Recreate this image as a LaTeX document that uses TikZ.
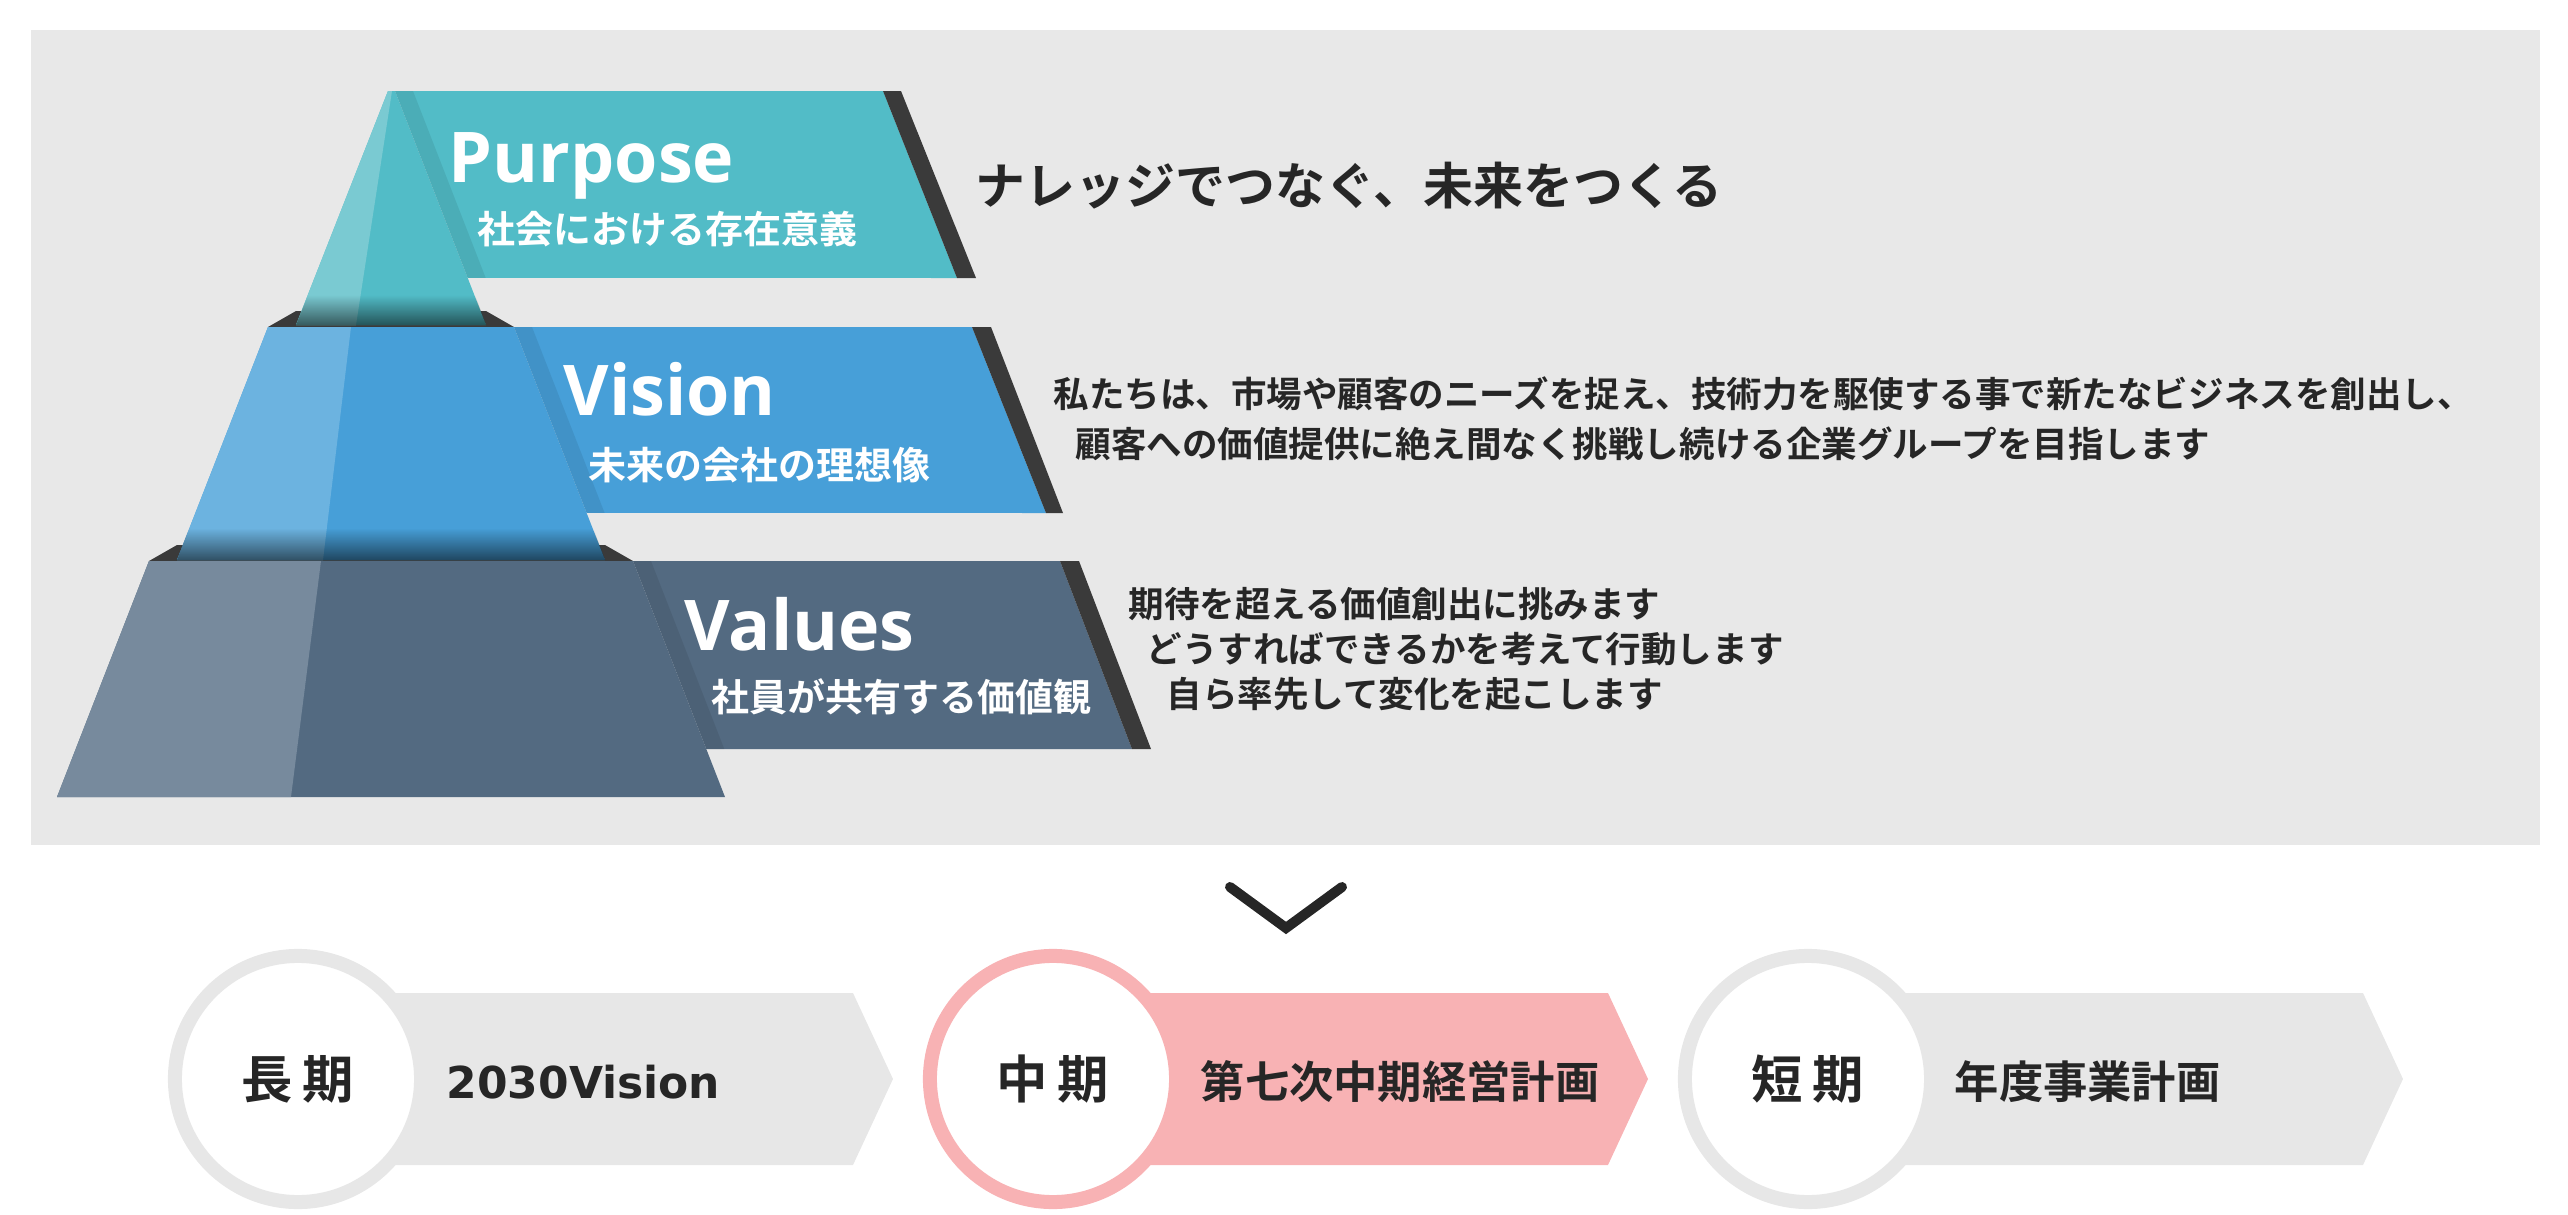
\documentclass[tikz,border=0pt]{standalone}
\usepackage{fontspec}
\usepackage{xcolor}
\usepackage{tikz}
\usetikzlibrary{calc,fadings}
\newfontfamily\titlefont{Open Sans}
\newfontfamily\numfont{DejaVu Sans}
\newfontfamily\jpfont{Noto Sans CJK JP Bold}
\definecolor{panel}{HTML}{E8E8E8}
\definecolor{ink}{HTML}{262626}
\definecolor{stripe}{HTML}{3A3A3A}
\definecolor{purpmain}{HTML}{52BCC7}
\definecolor{purplight}{HTML}{7ACAD2}
\definecolor{vismain}{HTML}{479FD8}
\definecolor{vislight}{HTML}{6CB3E0}
\definecolor{valmain}{HTML}{536A81}
\definecolor{vallight}{HTML}{778A9D}
\definecolor{bandgray}{HTML}{E7E7E7}
\definecolor{bandpink}{HTML}{F8B2B4}
\tikzset{
  tiertitle/.style={text=white, font=\titlefont\bfseries\fontsize{19.9}{22}\selectfont, anchor=base west, inner sep=0pt},
  subtitle/.style={text=white, font=\jpfont\fontsize{10.8}{12}\selectfont, anchor=west, inner sep=0pt},
  motto/.style={text=ink, font=\jpfont\fontsize{14.2}{16}\selectfont, anchor=west, inner sep=0pt},
  body/.style={text=ink, font=\jpfont\fontsize{10.1}{12}\selectfont, anchor=west, inner sep=0pt},
  stage/.style={circle, fill=white, line width=0.14cm, minimum size=2.46cm, inner sep=0pt, text=ink, font=\jpfont\fontsize{14.6}{16}\selectfont},
  plan/.style={anchor=west, inner sep=0pt, text=ink, font=\jpfont\fontsize{12.6}{14}\selectfont},
  topface/.style={fill=stripe},
  edgeshade/.style={fill=black, fill opacity=0.08},
  bottomshade/.style={fill=black, fill opacity=0.55, path fading=north},
  chev/.style={draw=ink, line width=0.1cm, line cap=round, line join=miter}
}

\begin{document}
\begin{tikzpicture}[x=0.01cm, y=-0.01cm]
  \useasboundingbox (0,0) rectangle (2568,1215);
  \fill[panel] (31,30) rectangle (2540,845);

  % pyramid tiers (top-left, top-right, bottom-right, bottom-left)
  \coordinate (P1) at (388,91);  \coordinate (P2) at (395,91);
  \coordinate (P3) at (486,325); \coordinate (P4) at (296,325);
  \coordinate (V1) at (268,327); \coordinate (V2) at (514,327);
  \coordinate (V3) at (605,560); \coordinate (V4) at (177,560);
  \coordinate (A1) at (149,561); \coordinate (A2) at (633,561);
  \coordinate (A3) at (725,797); \coordinate (A4) at (57,797);

  % dark top faces under the upper tiers
  \fill[topface] (V1) -- (296,311) -- (486,311) -- (V2) -- cycle;
  \fill[topface] (A1) -- (177,545) -- (605,545) -- (A2) -- cycle;

  % Values
  \fill[valmain] (A2) -- (1060,561) -- (1132,749) -- ($(A2)!0.797!(A3)$) -- cycle;
  \fill[stripe] (1060,561) -- (1079,561) -- (1151,749) -- (1132,749) -- cycle;
  \fill[valmain] (A1) -- (A2) -- (A3) -- (A4) -- cycle;
  \fill[vallight] (A1) -- (321,561) -- (291,797) -- (A4) -- cycle;
  \fill[edgeshade] (A2) -- ($(A2)+(18,0)$) -- ($($(A2)!0.797!(A3)$)+(18,0)$) -- ($(A2)!0.797!(A3)$) -- cycle;

  % Vision
  \fill[vismain] (V2) -- (972,327) -- (1046,513) -- ($(V2)!0.798!(V3)$) -- cycle;
  \fill[stripe] (972,327) -- (991,327) -- (1063,513) -- (1046,513) -- cycle;
  \fill[vismain] (V1) -- (V2) -- (V3) -- (V4) -- cycle;
  \fill[vislight] (V1) -- (351,327) -- (323,560) -- (V4) -- cycle;
  \fill[edgeshade] (V2) -- ($(V2)+(18,0)$) -- ($($(V2)!0.798!(V3)$)+(18,0)$) -- ($(V2)!0.798!(V3)$) -- cycle;
  \fill[bottomshade] (189,528) -- (593,528) -- (V3) -- (V4) -- cycle;

  % Purpose
  \fill[purpmain] (P2) -- (883,91) -- (957,278) -- ($(P2)!0.799!(P3)$) -- cycle;
  \fill[stripe] (883,91) -- (901,91) -- (976,278) -- (957,278) -- cycle;
  \fill[purpmain] (P1) -- (P2) -- (P3) -- (P4) -- cycle;
  \fill[purplight] (P1) -- (392,91) -- (356,325) -- (P4) -- cycle;
  \fill[edgeshade] (P2) -- ($(P2)+(18,0)$) -- ($($(P2)!0.799!(P3)$)+(18,0)$) -- ($(P2)!0.799!(P3)$) -- cycle;
  \fill[bottomshade] (308,295) -- (475,295) -- (P3) -- (P4) -- cycle;

  \node[tiertitle] (purposetitle) at (448,182) {Purpose};
  \node[subtitle] (purposesub) at (477,229) {社会における存在意義};
  \node[tiertitle] (visiontitle) at (563,415) {Vision};
  \node[subtitle] (visionsub) at (588,465) {未来の会社の理想像};
  \node[tiertitle] (valuestitle) at (684,650) {Values};
  \node[subtitle] (valuessub) at (711,697) {社員が共有する価値観};

  \node[motto] (purposetext) at (975,186) {ナレッジでつなぐ、未来をつくる};
  \node[body] (visionline1) at (1053,394) {私たちは、市場や顧客のニーズを捉え、技術力を駆使する事で新たなビジネスを創出し、};
  \node[body] (visionline2) at (1075,444) {顧客への価値提供に絶え間なく挑戦し続ける企業グループを目指します};
  \node[body] (valuesline1) at (1128,604) {期待を超える価値創出に挑みます};
  \node[body] (valuesline2) at (1146,649) {どうすればできるかを考えて行動します};
  \node[body] (valuesline3) at (1166,694) {自ら率先して変化を起こします};

  % chevron
  \coordinate (chevL) at (1230,887);
  \coordinate (chevB) at (1286,928);
  \coordinate (chevR) at (1342,887);
  \draw[chev] (chevL) -- (chevB) -- (chevR);

  % long / mid / short term
  \fill[bandgray] (298,993) -- ++(555,0) -- ++(40,86) -- ++(-40,86) -- ++(-555,0) -- cycle;
  \node[stage, draw=bandgray] (longterm) at (298,1079) {長\hspace{2.8pt}期};
  \node[plan, font=\numfont\bfseries\fontsize{12.5}{14}\selectfont] (longplan) at (446,1082) {2030Vision};

  \fill[bandpink] (1053,993) -- ++(555,0) -- ++(40,86) -- ++(-40,86) -- ++(-555,0) -- cycle;
  \node[stage, draw=bandpink] (midterm) at (1053,1079) {中\hspace{2.8pt}期};
  \node[plan] (midplan) at (1200,1082) {第七次中期経営計画};

  \fill[bandgray] (1808,993) -- ++(555,0) -- ++(40,86) -- ++(-40,86) -- ++(-555,0) -- cycle;
  \node[stage, draw=bandgray] (shortterm) at (1808,1079) {短\hspace{2.8pt}期};
  \node[plan] (shortplan) at (1954,1082) {年度事業計画};
\end{tikzpicture}
\end{document}
